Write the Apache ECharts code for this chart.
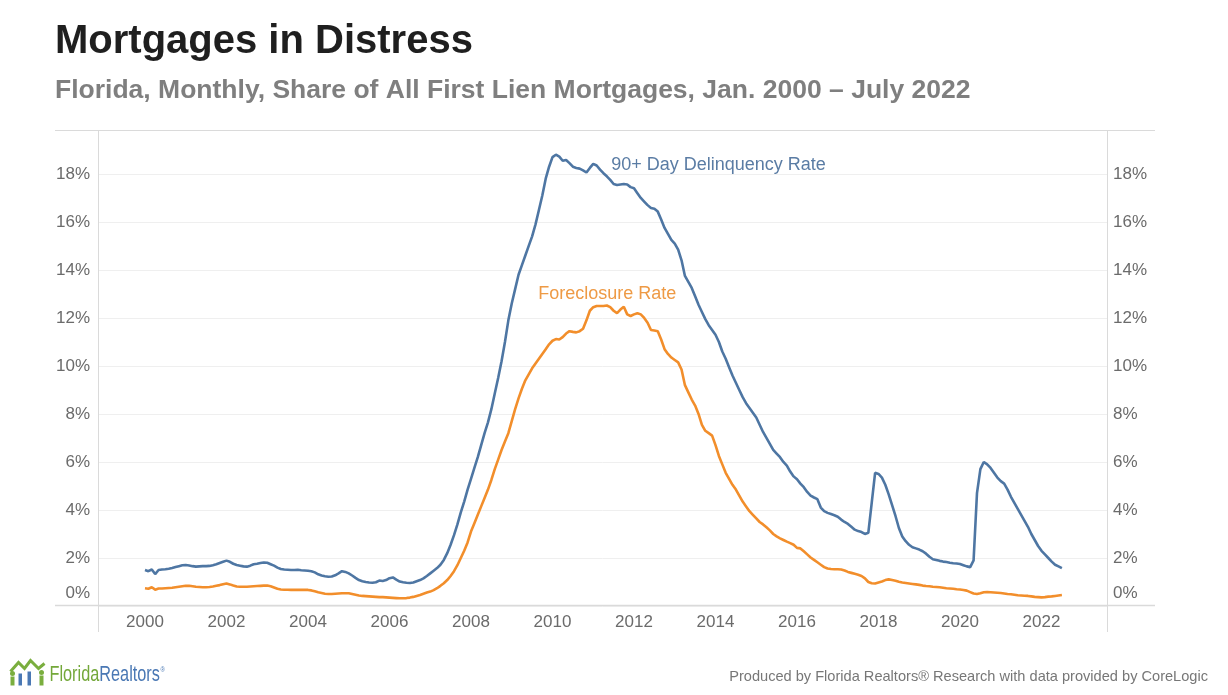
<!doctype html>
<html lang="en">
<head>
    <meta charset="UTF-8">
    <title>Mortgages in Distress</title>
    <script src="https://cdn.jsdelivr.net/npm/echarts@6.0.0/dist/echarts.min.js"></script>
    <style>
        html, body { margin: 0; padding: 0; background: #fff; }
        #chart { width: 1228px; height: 695px; }
    </style>
</head>
<body>
<div id="chart"></div>
<script type="text/javascript">
    // monthly values, Jan 2000 - July 2022, one row per year (percent)
    const startYear = 2000;
    const delinquency = [
        1.50, 1.45, 1.52, 1.33, 1.50, 1.52, 1.53, 1.55, 1.58, 1.62, 1.66, 1.70,   // 2000
        1.71, 1.69, 1.66, 1.64, 1.65, 1.66, 1.66, 1.67, 1.70, 1.74, 1.79, 1.84,   // 2001
        1.89, 1.84, 1.76, 1.71, 1.68, 1.65, 1.64, 1.68, 1.74, 1.76, 1.79, 1.81,   // 2002
        1.80, 1.74, 1.68, 1.60, 1.54, 1.52, 1.51, 1.50, 1.50, 1.51, 1.49, 1.48,   // 2003
        1.47, 1.45, 1.40, 1.32, 1.27, 1.24, 1.22, 1.23, 1.28, 1.36, 1.45, 1.42,   // 2004
        1.36, 1.27, 1.17, 1.08, 1.03, 1.00, 0.98, 0.97, 0.99, 1.06, 1.04, 1.08,   // 2005
        1.16, 1.19, 1.10, 1.02, 0.99, 0.97, 0.96, 0.98, 1.03, 1.08, 1.15, 1.25,   // 2006
        1.36, 1.47, 1.58, 1.72, 1.92, 2.20, 2.55, 2.95, 3.40, 3.90, 4.35, 4.85,   // 2007
        5.30, 5.75, 6.20, 6.70, 7.20, 7.65, 8.20, 8.85, 9.50, 10.2, 11.0, 11.9,   // 2008
        12.6, 13.2, 13.8, 14.2, 14.6, 15.0, 15.4, 15.9, 16.5, 17.1, 17.8, 18.3,   // 2009
        18.70, 18.80, 18.72, 18.55, 18.58, 18.45, 18.30, 18.25, 18.22, 18.15, 18.06, 18.25, // 2010
        18.42, 18.35, 18.18, 18.03, 17.90, 17.75, 17.58, 17.54, 17.56, 17.58, 17.56, 17.45, // 2011
        17.40, 17.20, 17.00, 16.85, 16.70, 16.58, 16.55, 16.43, 16.10, 15.75, 15.50, 15.25, // 2012
        15.10, 14.85, 14.40, 13.75, 13.50, 13.25, 12.90, 12.55, 12.25, 11.95, 11.70, 11.50, // 2013
        11.30, 11.00, 10.60, 10.30, 9.95, 9.60, 9.30, 9.00, 8.70, 8.45, 8.25, 8.05,   // 2014
        7.85, 7.55, 7.25, 7.00, 6.75, 6.50, 6.35, 6.20, 6.00, 5.85, 5.60, 5.40,   // 2015
        5.28, 5.10, 4.95, 4.75, 4.60, 4.52, 4.45, 4.10, 3.95, 3.88, 3.83, 3.78,   // 2016
        3.72, 3.60, 3.50, 3.42, 3.30, 3.18, 3.12, 3.08, 3.00, 3.05, 4.30, 5.55,   // 2017
        5.50, 5.35, 5.05, 4.65, 4.20, 3.75, 3.25, 2.90, 2.70, 2.55, 2.45, 2.40,   // 2018
        2.35, 2.28, 2.18, 2.05, 1.95, 1.92, 1.88, 1.85, 1.83, 1.80, 1.78, 1.77,   // 2019
        1.75, 1.70, 1.65, 1.62, 1.90, 4.70, 5.70, 6.00, 5.90, 5.75, 5.55, 5.35,   // 2020
        5.20, 5.10, 4.85, 4.55, 4.30, 4.05, 3.80, 3.55, 3.30, 3.00, 2.75, 2.50,   // 2021
        2.30, 2.15, 2.00, 1.85, 1.72, 1.65, 1.58                                  // 2022
    ];
    const foreclosure = [
        0.74, 0.72, 0.78, 0.68, 0.73, 0.73, 0.74, 0.75, 0.76, 0.78, 0.80, 0.82,   // 2000
        0.84, 0.84, 0.82, 0.80, 0.79, 0.78, 0.78, 0.79, 0.81, 0.84, 0.87, 0.91,   // 2001
        0.94, 0.90, 0.85, 0.81, 0.80, 0.80, 0.80, 0.81, 0.82, 0.83, 0.84, 0.85,   // 2002
        0.85, 0.82, 0.77, 0.72, 0.69, 0.68, 0.68, 0.67, 0.67, 0.67, 0.67, 0.67,   // 2003
        0.67, 0.65, 0.61, 0.57, 0.54, 0.51, 0.50, 0.50, 0.51, 0.52, 0.53, 0.53,   // 2004
        0.53, 0.50, 0.47, 0.44, 0.42, 0.41, 0.40, 0.39, 0.38, 0.37, 0.37, 0.36,   // 2005
        0.35, 0.34, 0.33, 0.32, 0.32, 0.33, 0.35, 0.38, 0.42, 0.46, 0.51, 0.56,   // 2006
        0.60, 0.66, 0.74, 0.84, 0.95, 1.08, 1.25, 1.45, 1.70, 2.00, 2.30, 2.65,   // 2007
        3.10, 3.45, 3.80, 4.15, 4.50, 4.85, 5.25, 5.70, 6.10, 6.50, 6.85, 7.20,   // 2008
        7.70, 8.20, 8.65, 9.05, 9.40, 9.65, 9.90, 10.10, 10.30, 10.50, 10.70, 10.90, // 2009
        11.05, 11.12, 11.10, 11.20, 11.35, 11.45, 11.42, 11.40, 11.45, 11.55, 11.90, 12.30, // 2010
        12.45, 12.50, 12.50, 12.50, 12.52, 12.45, 12.30, 12.20, 12.35, 12.47, 12.15, 12.08, // 2011
        12.15, 12.20, 12.15, 12.00, 11.80, 11.50, 11.48, 11.45, 11.10, 10.70, 10.50, 10.35, // 2012
        10.25, 10.15, 9.85, 9.20, 8.90, 8.60, 8.35, 8.00, 7.55, 7.30, 7.20, 7.10,  // 2013
        6.70, 6.25, 5.90, 5.55, 5.30, 5.05, 4.85, 4.60, 4.35, 4.15, 3.95, 3.80,   // 2014
        3.65, 3.50, 3.40, 3.28, 3.15, 3.00, 2.90, 2.82, 2.75, 2.68, 2.62, 2.55,   // 2015
        2.42, 2.40, 2.28, 2.15, 2.02, 1.92, 1.82, 1.72, 1.62, 1.56, 1.54, 1.53,   // 2016
        1.53, 1.52, 1.48, 1.42, 1.38, 1.34, 1.30, 1.25, 1.15, 1.00, 0.95, 0.94,   // 2017
        0.98, 1.02, 1.08, 1.11, 1.08, 1.05, 1.01, 0.98, 0.96, 0.94, 0.92, 0.90,   // 2018
        0.88, 0.85, 0.83, 0.82, 0.80, 0.79, 0.78, 0.76, 0.74, 0.73, 0.72, 0.70,   // 2019
        0.69, 0.67, 0.64, 0.58, 0.52, 0.50, 0.53, 0.57, 0.58, 0.57, 0.56, 0.55,   // 2020
        0.54, 0.52, 0.50, 0.49, 0.47, 0.45, 0.44, 0.43, 0.42, 0.40, 0.38, 0.37,   // 2021
        0.36, 0.37, 0.39, 0.40, 0.42, 0.44, 0.46                                  // 2022
    ];
    const yearTicks = [2000, 2002, 2004, 2006, 2008, 2010, 2012, 2014, 2016, 2018, 2020, 2022];

    const blue = '#4e76a3';
    const orange = '#f28e2b';
    const gray = '#6b6b6b';
    const rule = '#dadada';
    const font = '"Liberation Sans", Arial, sans-serif';

    function toPairs(values) {
        let out = [];
        for (let i = 0; i < values.length; i++) {
            out.push([startYear + i / 12, values[i]]);
        }
        return out;
    }

    let yLabel = {
        fontFamily: font,
        fontSize: 17,
        color: gray,
        showMaxLabel: false,
        formatter: function (v) {
            return v === 0 ? '{z|0%}' : v + '%';
        },
        rich: {
            z: { fontFamily: font, fontSize: 17, color: gray, padding: [0, 0, 26, 0] }
        }
    };

    let chart = echarts.init(document.getElementById('chart'), null, { renderer: 'canvas' });
    chart.setOption({
        animation: false,
        grid: { left: 98, right: 121, top: 130, bottom: 89 },
        xAxis: {
            type: 'value',
            min: 1998.847,
            max: 2023.607,
            axisLine: { show: false },
            axisTick: { show: false },
            splitLine: { show: false },
            axisLabel: {
                customValues: yearTicks,
                formatter: function (v) { return String(v); },
                fontFamily: font,
                fontSize: 17,
                color: gray,
                margin: 8
            }
        },
        yAxis: [
            {
                type: 'value', min: 0, max: 19.83, interval: 2,
                axisLine: { show: false }, axisTick: { show: false },
                splitLine: { lineStyle: { color: '#efefef', width: 1 } },
                axisLabel: Object.assign({ margin: 8 }, yLabel)
            },
            {
                type: 'value', min: 0, max: 19.83, interval: 2, position: 'right',
                axisLine: { show: false }, axisTick: { show: false },
                splitLine: { show: false },
                axisLabel: Object.assign({ margin: 6 }, yLabel)
            }
        ],
        series: [
            {
                name: '90+ Day Delinquency Rate',
                type: 'line',
                showSymbol: false,
                data: toPairs(delinquency),
                lineStyle: { color: blue, width: 2.6 },
                itemStyle: { color: blue },
                z: 3
            },
            {
                name: 'Foreclosure Rate',
                type: 'line',
                showSymbol: false,
                data: toPairs(foreclosure),
                lineStyle: { color: orange, width: 2.6 },
                itemStyle: { color: orange },
                z: 3
            }
        ]
    });

    // series labels placed in data space
    let pBlue = chart.convertToPixel({ gridIndex: 0 }, [2011.44, 18.38]);
    let pOrange = chart.convertToPixel({ gridIndex: 0 }, [2009.65, 12.98]);
    const logoFont = '"Liberation Sans", Arial, sans-serif';

    chart.setOption({
        graphic: [
            { type: 'text', left: 55, top: 22, style: { text: 'Mortgages in Distress', font: 'bold 40px ' + font, fill: '#1f1f1f' } },
            { type: 'text', left: 55, top: 77, style: { text: 'Florida, Monthly, Share of All First Lien Mortgages, Jan. 2000 \u2013 July 2022', font: 'bold 26.5px ' + font, fill: '#7f7f7f' } },
            { type: 'line', shape: { x1: 55, y1: 130.5, x2: 1155, y2: 130.5 }, style: { stroke: rule, lineWidth: 1 } },
            { type: 'line', shape: { x1: 55, y1: 605.5, x2: 1155, y2: 605.5 }, style: { stroke: rule, lineWidth: 1.5 } },
            { type: 'line', shape: { x1: 98.5, y1: 130, x2: 98.5, y2: 632 }, style: { stroke: rule, lineWidth: 1 } },
            { type: 'line', shape: { x1: 1107.5, y1: 130, x2: 1107.5, y2: 632 }, style: { stroke: rule, lineWidth: 1 } },
            { type: 'text', x: pBlue[0], y: pBlue[1], style: { text: '90+ Day Delinquency Rate', font: '18px ' + font, fill: '#5a7ca4', verticalAlign: 'middle' } },
            { type: 'text', x: pOrange[0], y: pOrange[1], style: { text: 'Foreclosure Rate', font: '18px ' + font, fill: '#ee9a45', verticalAlign: 'middle' } },
            { type: 'text', right: 20, top: 669, style: { text: 'Produced by Florida Realtors\u00ae Research with data provided by CoreLogic', font: '14.6px ' + font, fill: '#777777' } },
            // logo
            {
                type: 'group', left: 8, top: 658,
                children: [
                    { type: 'polyline', shape: { points: [[2, 14], [10, 5], [16, 11], [22, 3], [30, 11], [36, 6]] }, style: { stroke: '#7aae3e', lineWidth: 3, fill: null } },
                    { type: 'circle', shape: { cx: 4, cy: 16, r: 2.5 }, style: { fill: '#7aae3e' } },
                    { type: 'rect', shape: { x: 2, y: 19, width: 4, height: 9 }, style: { fill: '#7aae3e' } },
                    { type: 'rect', shape: { x: 10, y: 16, width: 3.5, height: 12 }, style: { fill: '#4a78b4' } },
                    { type: 'rect', shape: { x: 19, y: 14, width: 3.5, height: 14 }, style: { fill: '#4a78b4' } },
                    { type: 'circle', shape: { cx: 33, cy: 15, r: 2.5 }, style: { fill: '#7aae3e' } },
                    { type: 'rect', shape: { x: 31, y: 18, width: 4, height: 10 }, style: { fill: '#7aae3e' } },
                    {
                        type: 'text', x: 41, y: 17, scaleX: 0.74,
                        style: {
                            text: '{g|Florida}{b|Realtors}{r|\u00ae}',
                            verticalAlign: 'middle',
                            rich: {
                                g: { font: '22px ' + logoFont, fill: '#74a83a' },
                                b: { font: '22px ' + logoFont, fill: '#4a78b4' },
                                r: { font: '8px ' + logoFont, fill: '#4a78b4', padding: [0, 0, 10, 1] }
                            }
                        }
                    }
                ]
            }
        ]
    });
</script>
</body>
</html>
